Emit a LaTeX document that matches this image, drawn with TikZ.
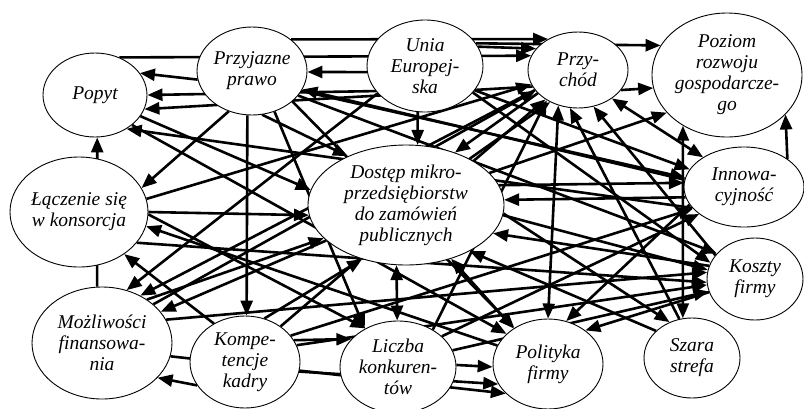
\documentclass[tikz,border=0pt]{standalone}
\usepackage{fontspec}
\setmainfont{Liberation Serif}
\usetikzlibrary{shapes.geometric,arrows.meta}
\pgfdeclarelayer{bg}
\pgfsetlayers{bg,main}
\tikzset{
  el/.style={ellipse,draw,line width=0.9pt,fill=white,inner sep=0pt},
  lbl/.style={font=\fontsize{19.5}{21}\selectfont\itshape,align=center,inner sep=0pt},
  edge/.style={line width=2.6pt},
  >={Triangle[length=15pt,width=12pt]}
}
\newcommand\nd[6]{%
  \expandafter\def\csname X#1\endcsname{#2}%
  \expandafter\def\csname Y#1\endcsname{#3}%
  \node[el,minimum width={2*#4pt},minimum height={2*#5pt},label={[lbl]center:{#6}}] (#1) at (#2,#3) {};}
\newcommand\ed[7][->]{%
  \pgfmathtruncatemacro\angA{mod(round(atan2(\csname Y#2\endcsname-(#4),(#3)-\csname X#2\endcsname))+360,360)}%
  \pgfmathtruncatemacro\angB{mod(round(atan2(\csname Y#5\endcsname-(#7),(#6)-\csname X#5\endcsname))+360,360)}%
  \draw[edge,#1] (#2.\angA) -- (#5.\angB);}
\begin{document}
\begin{tikzpicture}[x=1pt,y=-1pt]
\useasboundingbox (0,0) rectangle (804,408);
\nd{P}{95}{95}{52}{42}{Popyt}
\nd{PP}{252}{71}{55}{44}{Przyjazne\\prawo}
\nd{UE}{425}{66}{58}{46}{Unia\\Europej-\\ska}
\nd{PR}{578}{70}{50}{38}{Przy-\\chód}
\nd{PZ}{727}{75}{75}{62}{Poziom\\rozwoju\\gospodarcze-\\go}
\nd{D}{406}{205}{98}{60}{Dostęp mikro-\\przedsiębiorstw\\do zamówień\\publicznych}
\nd{L}{79}{212}{69}{55}{Łączenie się\\w konsorcja}
\nd{I}{744}{187}{60}{40}{Innowa-\\cyjność}
\nd{K}{755}{279}{48}{41}{Koszty\\firmy}
\nd{M}{102}{343}{70}{56}{Możliwości\\finansowa-\\nia}
\nd{KK}{245}{362}{55}{46}{Kompe-\\tencje\\kadry}
\nd{LK}{398}{367}{58}{46}{Liczba\\konkuren-\\tów}
\nd{PF}{548}{364}{55}{45}{Polityka\\firmy}
\nd{S}{692}{358}{48}{40}{Szara\\strefa}
\begin{pgfonlayer}{bg}
\ed{PP}{197}{80}{P}{143}{72}
\ed{UE}{368}{95}{P}{150}{95}
\ed{PR}{528}{88}{P}{148}{110}
\ed{I}{688}{210}{P}{128}{130}
\ed{M}{97}{287}{P}{97}{137}
\ed{PP}{228}{112}{L}{148}{185}
\ed{PP}{247}{115}{KK}{247}{315}
\ed{PP}{262}{115}{D}{348}{157}
\ed{PP}{293}{38}{PR}{543}{34}
\ed{P}{120}{56}{PR}{531}{56}
\ed{UE}{481}{46}{PR}{530}{46}
\ed{UE}{368}{72}{PP}{309}{72}
\ed{UE}{478}{42}{PZ}{655}{43}
\ed{PR}{620}{90}{PZ}{653}{88}
\ed[<->]{S}{683}{319}{PZ}{683}{126}
\ed{I}{790}{157}{PZ}{790}{118}
\ed[<->]{PR}{610}{97}{I}{700}{155}
\ed{PR}{535}{95}{D}{460}{148}
\ed{UE}{418}{112}{D}{418}{145}
\ed{D}{490}{173}{PZ}{667}{113}
\ed{LK}{433}{330}{PR}{542}{105}
\ed[<->]{PF}{548}{319}{PR}{557}{108}
\ed{S}{680}{320}{PR}{570}{108}
\ed{K}{715}{255}{PR}{593}{105}
\ed{L}{143}{200}{PR}{528}{85}
\ed{M}{160}{300}{PR}{530}{93}
\ed{KK}{280}{327}{PR}{540}{104}
\ed{D}{470}{158}{PR}{548}{104}
\ed{UE}{475}{90}{I}{685}{168}
\ed{PP}{300}{90}{I}{685}{178}
\ed{D}{502}{185}{I}{684}{183}
\ed{I}{685}{197}{D}{505}{200}
\ed{KK}{292}{335}{I}{690}{210}
\ed{LK}{440}{338}{I}{698}{215}
\ed{PP}{298}{95}{K}{712}{250}
\ed{UE}{472}{92}{K}{708}{262}
\ed{D}{503}{215}{K}{707}{270}
\ed{L}{137}{243}{K}{707}{282}
\ed{M}{170}{318}{K}{707}{272}
\ed{KK}{298}{345}{K}{707}{285}
\ed{LK}{452}{350}{K}{708}{292}
\ed{K}{707}{265}{D}{498}{235}
\ed{K}{710}{292}{PF}{592}{325}
\ed{P}{132}{125}{PF}{505}{333}
\ed{PP}{290}{100}{PF}{515}{328}
\ed[<->]{D}{453}{262}{PF}{507}{322}
\ed{I}{688}{205}{PF}{567}{320}
\ed{LK}{456}{365}{PF}{493}{367}
\ed{KK}{299}{372}{PF}{497}{385}
\ed{M}{171}{357}{PF}{500}{397}
\ed{KK}{300}{338}{LK}{350}{338}
\ed[<->]{D}{397}{265}{LK}{397}{320}
\ed{L}{148}{215}{LK}{363}{325}
\ed{PP}{275}{112}{LK}{362}{325}
\ed{D}{503}{213}{S}{667}{318}
\ed{S}{655}{330}{D}{480}{258}
\ed{UE}{375}{95}{M}{127}{290}
\ed{PR}{530}{92}{M}{147}{288}
\ed{D}{327}{240}{M}{167}{308}
\ed{M}{147}{300}{D}{320}{240}
\ed{KK}{197}{385}{M}{157}{377}
\ed{KK}{213}{323}{L}{125}{255}
\ed{KK}{265}{318}{D}{360}{262}
\ed{PF}{495}{345}{L}{163}{230}
\ed{L}{147}{212}{D}{307}{215}
\ed{P}{137}{115}{D}{310}{190}
\ed{I}{690}{180}{PP}{317}{95}
\end{pgfonlayer}
\end{tikzpicture}
\end{document}
